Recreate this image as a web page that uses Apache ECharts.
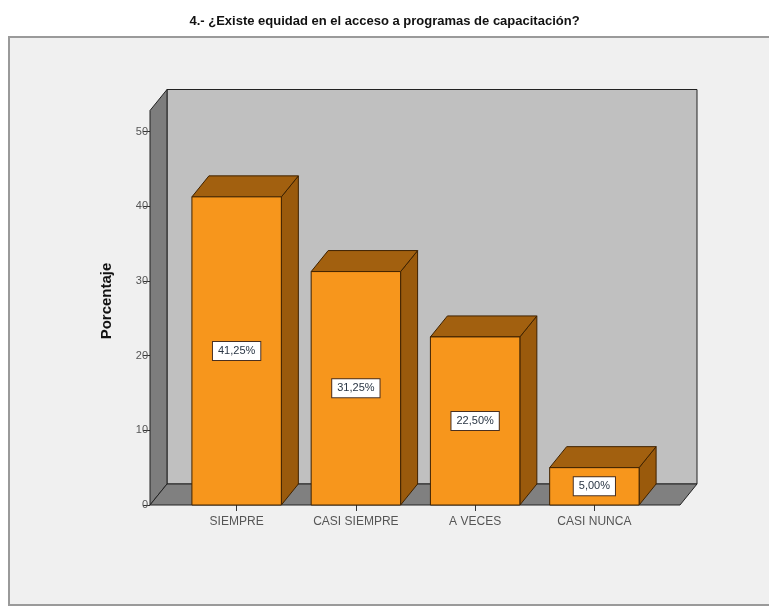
<!DOCTYPE html>
<html>
<head>
<meta charset="utf-8">
<script src="https://cdn.jsdelivr.net/npm/echarts@6/dist/echarts.min.js"></script>
<style>
  html, body { margin: 0; padding: 0; background: #ffffff; }
  #chart { width: 769px; height: 609px; }
</style>
</head>
<body>
<div id="chart"></div>
<script>
// Categories and percentages of the survey question
const categories = ['SIEMPRE', 'CASI SIEMPRE', 'A VECES', 'CASI NUNCA'];
const porcentajes = [41.25, 31.25, 22.5, 5.0];

// Value axis ticks
const yMin = 0;
const yMax = 50;
const yStep = 10;

const titleText = '4.- ¿Existe equidad en el acceso a programas de capacitación?';
const yAxisName = 'Porcentaje';

// 3D extrusion offsets (pixels)
const DX = 17;
const DY = -21;
const FONT = '"Liberation Sans", Arial, sans-serif';

function fmtPct(v) {
  return v.toFixed(2).replace('.', ',') + '%';
}

// Back wall, left wall and floor of the 3D box
function renderWalls(params, api) {
  const cs = params.coordSys;
  const x0 = cs.x - 27;
  const x1 = cs.x + cs.width + 26;
  const yb = cs.y + cs.height;
  const yt = cs.y - 21;
  const stroke = '#222';
  return {
    type: 'group',
    children: [
      {
        type: 'polygon',
        shape: { points: [[x0 + DX, yt + DY], [x1 + DX, yt + DY], [x1 + DX, yb + DY], [x0 + DX, yb + DY]] },
        style: { fill: '#c0c0c0', stroke: stroke, lineWidth: 1 }
      },
      {
        type: 'polygon',
        shape: { points: [[x0, yt], [x0 + DX, yt + DY], [x0 + DX, yb + DY], [x0, yb]] },
        style: { fill: '#7d7d7d', stroke: stroke, lineWidth: 1 }
      },
      {
        type: 'polygon',
        shape: { points: [[x0, yb], [x1, yb], [x1 + DX, yb + DY], [x0 + DX, yb + DY]] },
        style: { fill: '#808080', stroke: stroke, lineWidth: 1 }
      }
    ]
  };
}

// Extruded orange bars with a boxed value label
function renderBar(params, api) {
  const idx = api.value(0);
  const v = api.value(1);
  const top = api.coord([idx, v]);
  const base = api.coord([idx, 0]);
  const bw = api.size([1, 0])[0] * 0.75;
  const xl = top[0] - bw / 2;
  const xr = top[0] + bw / 2;
  const yt = top[1];
  const yb = base[1];
  const edge = '#3f2200';
  return {
    type: 'group',
    children: [
      {
        type: 'polygon',
        shape: { points: [[xr, yt], [xr + DX, yt + DY], [xr + DX, yb + DY], [xr, yb]] },
        style: { fill: '#9a5a0c', stroke: edge, lineWidth: 1 }
      },
      {
        type: 'polygon',
        shape: { points: [[xl, yt], [xr, yt], [xr + DX, yt + DY], [xl + DX, yt + DY]] },
        style: { fill: '#a2600f', stroke: edge, lineWidth: 1 }
      },
      {
        type: 'rect',
        shape: { x: xl, y: yt, width: bw, height: yb - yt },
        style: { fill: '#f7961c', stroke: edge, lineWidth: 1 }
      },
      {
        type: 'text',
        style: {
          text: fmtPct(v),
          x: top[0],
          y: (yt + yb) / 2,
          align: 'center',
          verticalAlign: 'middle',
          font: '11px ' + FONT,
          fill: '#2a3644',
          backgroundColor: '#ffffff',
          borderColor: '#4a3020',
          borderWidth: 1,
          padding: [4, 5, 3, 5]
        }
      }
    ]
  };
}

const chart = echarts.init(document.getElementById('chart'));
chart.setOption({
  backgroundColor: '#ffffff',
  animation: false,
  title: {
    text: titleText,
    left: 'center',
    top: 10,
    textStyle: { fontFamily: FONT, fontSize: 13, fontWeight: 'bold', color: '#111' }
  },
  graphic: [
    {
      type: 'rect',
      z: -10,
      shape: { x: 9, y: 37, width: 790, height: 568 },
      style: { fill: '#f0f0f0', stroke: '#9a9a9a', lineWidth: 2 }
    },
    {
      type: 'text',
      x: 107,
      y: 301,
      rotation: Math.PI / 2,
      style: {
        text: yAxisName,
        align: 'center',
        verticalAlign: 'middle',
        font: 'bold 15px ' + FONT,
        fill: '#111'
      }
    }
  ],
  grid: { left: 177, right: 115, top: 131.5, bottom: 104 },
  xAxis: {
    type: 'category',
    data: categories,
    axisLine: { show: false },
    axisTick: { show: true, alignWithLabel: true, length: 6, lineStyle: { color: '#333' } },
    axisLabel: { margin: 11, fontFamily: FONT, fontSize: 12, color: '#555' },
    splitLine: { show: false }
  },
  yAxis: {
    type: 'value',
    min: yMin,
    max: yMax,
    interval: yStep,
    offset: 27,
    axisLine: { show: false },
    axisTick: { show: true, length: 7, lineStyle: { color: '#333' } },
    axisLabel: { margin: 2, fontFamily: FONT, fontSize: 11, color: '#555' },
    splitLine: { show: false }
  },
  series: [
    {
      type: 'custom',
      z: 1,
      silent: true,
      renderItem: renderWalls,
      data: [[0, 0]]
    },
    {
      type: 'custom',
      z: 2,
      renderItem: renderBar,
      data: porcentajes.map((v, i) => [i, v])
    }
  ]
});
</script>
</body>
</html>
